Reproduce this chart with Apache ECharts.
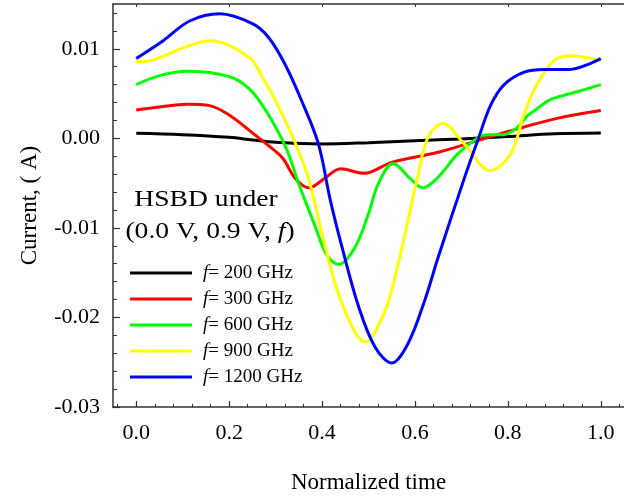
<!DOCTYPE html>
<html>
<head>
<meta charset="utf-8">
<script src="https://cdn.jsdelivr.net/npm/echarts@6/dist/echarts.min.js"></script>
<style>html,body{margin:0;padding:0;background:#fff}#c{width:624px;height:499px}</style>
</head>
<body>
<div id="c"></div>
<script>
// ---- data ----
const seriesNames = ['f= 200 GHz', 'f= 300 GHz', 'f= 600 GHz', 'f= 900 GHz', 'f= 1200 GHz'];
const colors = ['#000000', '#ff0000', '#00ff00', '#ffff00', '#0000ff'];

const t200 = [0, 0.1, 0.2, 0.25, 0.3, 0.4, 0.5, 0.6, 0.7, 0.8, 0.9, 1.0];
const i200 = [0.00056, 0.0004, 0.00011, -0.00018, -0.00045, -0.00063, -0.00048, -0.00026, -0.00007, 0.0002, 0.0005, 0.0006];

const t300 = [0, 0.05, 0.11, 0.158, 0.2, 0.244, 0.286, 0.315, 0.343, 0.372, 0.405, 0.44, 0.49, 0.55, 0.65, 0.735, 0.82, 0.906, 1.0];
const i300 = [0.00317, 0.0035, 0.0038, 0.00365, 0.0026, 0.00086, -0.00087, -0.0022, -0.0045, -0.00553, -0.0045, -0.0034, -0.0039, -0.00268, -0.00156, -0.00026, 0.00105, 0.00223, 0.0031];

const t600 = [0, 0.05, 0.108, 0.2, 0.244, 0.279, 0.322, 0.35, 0.383, 0.411, 0.436, 0.471, 0.5, 0.521, 0.553, 0.59, 0.617, 0.65, 0.692, 0.735, 0.757, 0.79, 0.82, 0.842, 0.863, 0.89, 0.92, 0.949, 1.0];
const i600 = [0.006, 0.007, 0.0075, 0.0069, 0.0055, 0.0031, -0.001, -0.0051, -0.00954, -0.0131, -0.01408, -0.01215, -0.00843, -0.00508, -0.0028, -0.0045, -0.00553, -0.00435, -0.00174, 0.00004, 0.0004, 0.0004, 0.0012, 0.0025, 0.0033, 0.0043, 0.0048, 0.0052, 0.006];

const t900 = [0, 0.015, 0.06, 0.1, 0.16, 0.244, 0.272, 0.3, 0.343, 0.372, 0.407, 0.443, 0.493, 0.536, 0.564, 0.585, 0.604, 0.628, 0.66, 0.706, 0.762, 0.806, 0.835, 0.863, 0.899, 0.934, 1.0];
const i900 = [0.0086, 0.00855, 0.0092, 0.0101, 0.0109, 0.009, 0.0068, 0.0042, -0.0006, -0.0047, -0.01215, -0.01846, -0.02274, -0.0192, -0.014, -0.00917, -0.0047, 0.0001, 0.00165, -0.00063, -0.0036, -0.00174, 0.00272, 0.00606, 0.00866, 0.00922, 0.00866];

const t1200 = [0, 0.058, 0.115, 0.18, 0.25, 0.285, 0.32, 0.356, 0.392, 0.418, 0.443, 0.479, 0.514, 0.55, 0.585, 0.621, 0.65, 0.706, 0.735, 0.763, 0.792, 0.835, 0.878, 0.934, 0.97, 1.0];
const i1200 = [0.00892, 0.0109, 0.0131, 0.0139, 0.0128, 0.01126, 0.0083, 0.0042, -0.0006, -0.00695, -0.01215, -0.01884, -0.0233, -0.02508, -0.02292, -0.0181, -0.01327, -0.0045, -0.00026, 0.0037, 0.006, 0.0074, 0.0077, 0.0077, 0.0082, 0.0089];

const xTicks = [0, 0.2, 0.4, 0.6, 0.8, 1.0];
const yTicks = [-0.03, -0.02, -0.01, 0.00, 0.01];
const xMinorStep = 0.04;
const yMinorStep = 0.002;

// ---- build ----
const times = [t200, t300, t600, t900, t1200];
const currents = [i200, i300, i600, i900, i1200];
const xMinor = [];
for (let k = -1; k <= 26; k++) { const v = +(k * xMinorStep).toFixed(4); if (v > -0.05 && v < 1.05) xMinor.push(v); }
const yMinor = [];
for (let k = -15; k <= 7; k++) { const v = +(k * yMinorStep).toFixed(4); if (v >= -0.03 && v < 0.015) yMinor.push(v); }

const FONT = 'Liberation Serif';
const axisColor = '#333';

const chart = echarts.init(document.getElementById('c'), null, {renderer: 'canvas'});
const series = seriesNames.map((n, s) => ({
  name: n,
  type: 'line',
  xAxisIndex: 0, yAxisIndex: 0,
  data: times[s].map((t, k) => [t, currents[s][k]]),
  smooth: 0.35,
  symbol: 'none',
  lineStyle: {color: colors[s], width: 3},
  itemStyle: {color: colors[s]},
  z: 2 + s
}));

chart.setOption({
  animation: false,
  backgroundColor: '#fff',
  grid: {left: 113, top: 4, bottom: 92, right: -4, containLabel: false},
  xAxis: [
    {type: 'value', min: -0.05, max: 1.05, position: 'bottom',
     axisLine: {show: true, onZero: false, lineStyle: {color: axisColor, width: 1.5}},
     axisTick: {show: true, inside: true, length: 6, customValues: xTicks, lineStyle: {color: axisColor, width: 1.2}},
     axisLabel: {show: true, customValues: xTicks, formatter: v => v.toFixed(1), margin: 15,
                 fontFamily: FONT, fontSize: 22, color: '#000'},
     splitLine: {show: false},
     name: 'Normalized time', nameLocation: 'middle', nameGap: 64,
     nameTextStyle: {fontFamily: FONT, fontSize: 23, color: '#000'}},
    {type: 'value', min: -0.05, max: 1.05, position: 'bottom',
     axisLine: {show: false, onZero: false},
     axisTick: {show: true, inside: true, length: 3, customValues: xMinor, lineStyle: {color: axisColor, width: 1}},
     axisLabel: {show: false}, splitLine: {show: false}},
    {type: 'value', min: -0.05, max: 1.05, position: 'top',
     axisLine: {show: true, onZero: false, lineStyle: {color: axisColor, width: 1.5}},
     axisTick: {show: true, inside: true, length: 3, customValues: xTicks, lineStyle: {color: axisColor, width: 1}},
     axisLabel: {show: false}, splitLine: {show: false}}
  ],
  yAxis: [
    {type: 'value', min: -0.03, max: 0.015, position: 'left',
     axisLine: {show: true, onZero: false, lineStyle: {color: axisColor, width: 1.5}},
     axisTick: {show: true, inside: true, length: 7, customValues: yTicks, lineStyle: {color: axisColor, width: 1.2}},
     axisLabel: {show: true, customValues: yTicks, formatter: v => v.toFixed(2), margin: 13,
                 fontFamily: FONT, fontSize: 22, color: '#000'},
     splitLine: {show: false},
     name: 'Current, ( A)', nameLocation: 'middle', nameGap: 72, nameRotate: 90,
     nameTextStyle: {fontFamily: FONT, fontSize: 23, color: '#000'}},
    {type: 'value', min: -0.03, max: 0.015, position: 'left',
     axisLine: {show: false, onZero: false},
     axisTick: {show: true, inside: true, length: 4, customValues: yMinor, lineStyle: {color: axisColor, width: 1}},
     axisLabel: {show: false}, splitLine: {show: false}}
  ],
  legend: {
    show: true, orient: 'vertical', left: 125, top: 258,
    icon: 'rect', itemWidth: 62, itemHeight: 3, itemGap: 6,
    data: seriesNames,
    formatter: n => '{i|f}{t|' + n.slice(1) + '}',
    textStyle: {fontFamily: FONT, fontSize: 19, color: '#000', lineHeight: 20, padding: [0, 0, 0, 6],
      rich: {i: {fontFamily: FONT, fontSize: 19, fontStyle: 'italic', lineHeight: 20}, t: {fontFamily: FONT, fontSize: 19, lineHeight: 20}}}
  },
  graphic: [
    {type: 'text', x: 206, y: 200, scaleX: 1.2, silent: true,
     style: {text: 'HSBD under', fontFamily: FONT, fontSize: 23, fill: '#000', align: 'center', verticalAlign: 'middle'}},
    {type: 'text', x: 210, y: 232, scaleX: 1.2, silent: true,
     style: {text: '(0.0 V, 0.9 V, {i|f})', fontFamily: FONT, fontSize: 23, fill: '#000', align: 'center', verticalAlign: 'middle',
             rich: {i: {fontFamily: FONT, fontSize: 23, fontStyle: 'italic'}}}}
  ],
  series: series
});
</script>
</body>
</html>
